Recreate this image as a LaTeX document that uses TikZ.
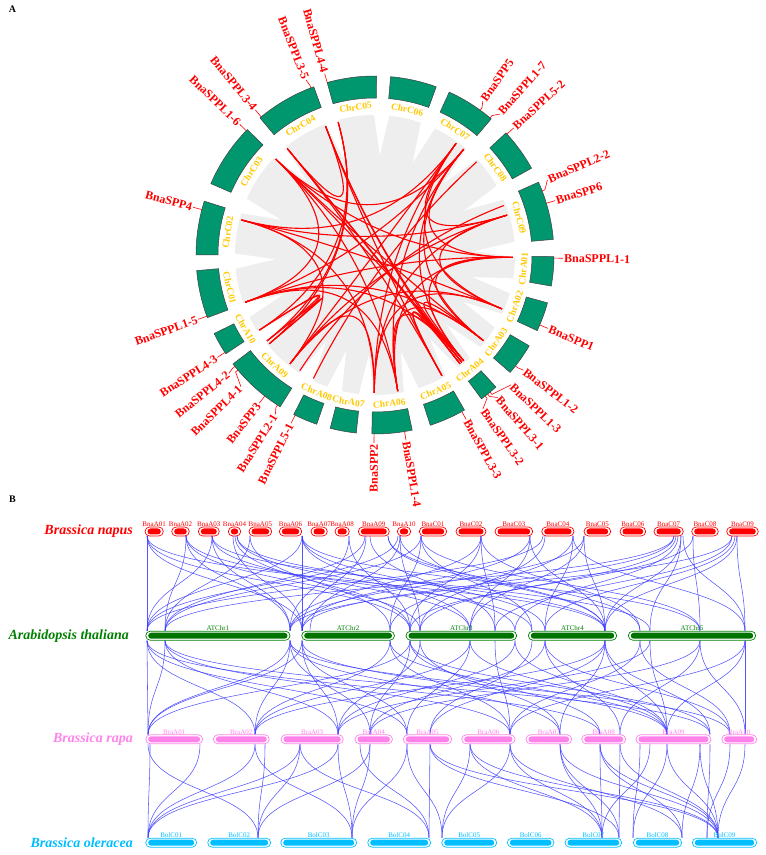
\documentclass[tikz,border=0pt]{standalone}
\usepackage{fontspec}
\setmainfont{Liberation Serif}
\definecolor{chrgreen}{RGB}{0,150,110}
\definecolor{chrgold}{RGB}{255,200,0}
\definecolor{greybg}{RGB}{238,238,238}
\definecolor{linkblue}{RGB}{55,55,255}
\definecolor{napred}{RGB}{255,0,0}
\definecolor{napout}{RGB}{255,90,90}
\definecolor{atgreen}{RGB}{0,128,0}
\definecolor{atout}{RGB}{0,160,0}
\definecolor{atfill}{RGB}{0,115,0}
\definecolor{rapapink}{RGB}{255,130,235}
\definecolor{oleblue}{RGB}{0,190,255}
\tikzset{
 chrblock/.style={fill=chrgreen, draw=black!75, line width=0.5pt},
 chrlab/.style={text=chrgold, font=\bfseries\fontsize{9.5}{9.5}\selectfont, inner sep=0pt},
 genelab/.style={text=napred, font=\bfseries\fontsize{12}{12}\selectfont, inner sep=1pt},
 geneline/.style={draw=napred, line width=0.6pt},
 redlink/.style={draw=napred, line width=1.1pt},
 bluelink/.style={draw=linkblue, line width=0.55pt, opacity=0.85},
 specieslab/.style={font=\bfseries\itshape\fontsize{14}{14}\selectfont, anchor=east, inner sep=0pt},
 barlab/.style={font=\fontsize{7}{7}\selectfont, inner sep=0.5pt, anchor=south},
 panellab/.style={font=\bfseries\fontsize{10}{10}\selectfont, inner sep=0pt}
}
\newcommand{\synbar}[7]{%
 \draw[draw=#4, line width=0.7pt, rounded corners=4.5pt] (#1,#3-4.5) rectangle (#2,#3+4.5);
 \fill[#5, rounded corners=3pt] (#1+2.5,#3-3) rectangle (#2-2.5,#3+3);
 \node[barlab, text=#4] (#7) at ({(#1+#2)/2},#3-4.5) {#6};}
\newcommand{\familylinks}[1]{%
 \foreach \x [count=\i] in {#1} {\foreach \y [count=\j] in {#1} {%
  \ifnum\j>\i \draw[redlink] (\x:138) .. controls (\x:46) and (\y:46) .. (\y:138);\fi}}}
\begin{document}
\begin{tikzpicture}[x=1pt,y=1pt]
\useasboundingbox (0,0) rectangle (766,855);
\node[panellab] (labA) at (12.5,846) {A};
\node[panellab] (labB) at (12.5,356) {B};

% ================= Panel A : circos =================
\begin{scope}[shift={(375,600)}]
\fill[greybg] (0,0) circle (140);
\foreach \g in {-12.75,-28,-44.25,-56.75,-75,-93.5,-106.75,-119.5,-144.25,-156.75,-177.5,159.5,132.75,107.75,87.25,67.75,46.25,26.5,2.25}
  \fill[white] ({\g-3.2}:141.5) -- (\g:100) -- ({\g+3.2}:141.5) -- cycle;
\foreach \s/\e in {-10/-0.5,-25/-15.5,-41/-30.5,-53.5/-47.5,-72/-60,-91/-78,-104.5/-96,-117/-109,-142.5/-122,-154/-146.5,-175/-159.5,162.5/180,135.5/156.5,110/130,89.5/105.5,70/85,49.5/65.5,29/43,5/24}
  \draw[chrblock] (\s:157) arc[start angle=\s, end angle=\e, radius=157] -- (\e:179) arc[start angle=\e, end angle=\s, radius=179] -- cycle;
\foreach \a/\n [count=\i] in {-5.25/ChrA01,-20.25/ChrA02,-35.75/ChrA03,-50.5/ChrA04,-66/ChrA05,-84.5/ChrA06,-100.25/ChrA07,-113/ChrA08,-132.25/ChrA09,-150.25/ChrA10,-167.25/ChrC01,171.25/ChrC02,146/ChrC03,120/ChrC04,97.5/ChrC05,77.5/ChrC06,57.5/ChrC07,36/ChrC08,14.5/ChrC09} {
  \pgfmathsetmacro\rot{sin(\a)>0 ? \a-90 : \a+90}
  \node[chrlab, rotate=\rot] (cl\i) at (\a:149) {\n};
}
% links (paralogous pairs)
\familylinks{-1,-38.3,-50,-80.5,-160,136,50}
\familylinks{-23,-90.3,-128,165.3,54,16.8}
\familylinks{-51,-52,-61,129.5,111}
\familylinks{-140,-141.5,-147,105.5}
\familylinks{-123,21}
\familylinks{-116.5,42.5}
% gene labels, right half
\foreach \at/\lb/\n [count=\i] in {-1/-1/BnaSPPL1-1,-23/-23/BnaSPP1,-38.3/-37.8/BnaSPPL1-2,-50/-43.7/BnaSPPL1-3,-51/-49.3/BnaSPPL3-1,-52/-55/BnaSPPL3-2,-61/-61/BnaSPPL3-3,-80.5/-80.5/BnaSPPL1-4,16.8/16.8/BnaSPP6,21/23.5/BnaSPPL2-2,42.5/42.5/BnaSPPL5-2,50/48.5/BnaSPPL1-7,54/55/BnaSPP5} {
  \draw[geneline] (\at:179) -- (\at:182) -- (\lb:188);
  \node[genelab, anchor=west, rotate=\lb] (gr\i) at (\lb:188) {\n};
}
% gene labels, left half
\foreach \at/\lb/\n [count=\i] in {105.5/105.5/BnaSPPL4-4,111/111.5/BnaSPPL3-5,129.5/129.5/BnaSPPL3-4,136/136/BnaSPPL1-6,165.3/165.3/BnaSPP4,-160/-160/BnaSPPL1-5,-147/-147/BnaSPPL4-3,-141.5/-141/BnaSPPL4-2,-140/-135.5/BnaSPPL4-1,-128/-128/BnaSPP3,-123/-122/BnaSPPL2-1,-116.5/-116.5/BnaSPPL5-1,-90.3/-90.3/BnaSPP2} {
  \draw[geneline] (\at:179) -- (\at:182) -- (\lb:188);
  \pgfmathsetmacro\rr{\lb+180}
  \node[genelab, anchor=east, rotate=\rr] (gl\i) at (\lb:188) {\n};
}
\end{scope}

% ================= Panel B : synteny =================
\begin{scope}[shift={(0,855)}, yscale=-1]
% links napus -> arabidopsis
\foreach \a/\b in {147/147,147/302,147/410,147/605,186/165,186/290,186/420,186/532,212/147,212/290,212/470,212/650,233/302,235/410,237/515,237/605,250/165,250/390,302/147,302/302,302/470,302/545,302/700,349/290,349/410,365/165,366/302,370/495,388/605,388/640,398/147,400/310,400/420,400/605,421/165,421/390,421/532,421/700,481/290,481/410,481/495,481/640,530/302,530/470,530/605,543/147,545/420,573/390,573/545,573/745,584/290,584/470,584/605,674/165,674/302,676/420,678/515,681/605,681/650,683/745,693/410,693/700,732/290,732/495,735/545,737/605,737/745}
  \draw[bluelink] (\a,536) .. controls (\a,583.4) and (\b,583.4) .. (\b,630.7);
% links arabidopsis -> rapa
\foreach \a/\b in {147/148,165/148,290/148,302/148,410/148,147/255,290/255,390/255,470/255,605/255,165/338,302/338,420/338,515/338,650/338,290/370,410/370,545/370,700/370,147/407,302/407,470/407,532/430,605/430,165/510,390/510,495/510,640/510,745/510,290/560,420/560,605/560,147/600,410/600,545/620,700/620,302/667,390/667,470/667,515/667,605/667,650/667,745/667,165/710,410/710,605/710,290/730,545/730,640/730,745/745,700/745}
  \draw[bluelink] (\a,640.7) .. controls (\a,687.5) and (\b,687.5) .. (\b,734.3);
% links rapa -> oleracea
\foreach \a/\b in {150/148,200/148,255/148,300/148,338/148,148/258,265/258,300/258,370/258,338/352,370/352,255/352,407/352,430/429,360/429,300/429,470/442,510/442,407/442,510/602,560/602,600/602,470/602,650/602,430/619,560/619,620/619,640/633,667/633,600/682,700/682,510/682,560/718,600/718,620/718,667/718,700/718,470/718,430/718,710/707,730/707,745/718}
  \draw[bluelink] (\a,744.3) .. controls (\a,791) and (\b,791) .. (\b,837.7);

% species labels
\node[specieslab, text=napred] (spnap) at (133,531.5) {Brassica napus};
\node[specieslab, text=atgreen] (spat) at (129,635.7) {Arabidopsis thaliana};
\node[specieslab, text=rapapink] (sprapa) at (133,739.3) {Brassica rapa};
\node[specieslab, text=oleblue] (spole) at (133,842.7) {Brassica oleracea};

% napus chromosomes
\synbar{145}{163.3}{531.5}{napred}{napred}{BnaA01}{nA01}
\synbar{171.7}{189.3}{531.5}{napred}{napred}{BnaA02}{nA02}
\synbar{198.3}{219.3}{531.5}{napred}{napred}{BnaA03}{nA03}
\synbar{228.3}{240.7}{531.5}{napred}{napred}{BnaA04}{nA04}
\synbar{249}{271.7}{531.5}{napred}{napred}{BnaA05}{nA05}
\synbar{279.3}{301.7}{531.5}{napred}{napred}{BnaA06}{nA06}
\synbar{311}{327.3}{531.5}{napred}{napred}{BnaA07}{nA07}
\synbar{335}{349.3}{531.5}{napred}{napred}{BnaA08}{nA08}
\synbar{358.3}{389.3}{531.5}{napred}{napred}{BnaA09}{nA09}
\synbar{397.3}{410.7}{531.5}{napred}{napred}{BnaA10}{nA10}
\synbar{419.3}{446.7}{531.5}{napred}{napred}{BnaC01}{nC01}
\synbar{456}{486}{531.5}{napred}{napred}{BnaC02}{nC02}
\synbar{495}{532.7}{531.5}{napred}{napred}{BnaC03}{nC03}
\synbar{541.7}{574}{531.5}{napred}{napred}{BnaC04}{nC04}
\synbar{584}{610.7}{531.5}{napred}{napred}{BnaC05}{nC05}
\synbar{620}{645.7}{531.5}{napred}{napred}{BnaC06}{nC06}
\synbar{654}{683.3}{531.5}{napred}{napred}{BnaC07}{nC07}
\synbar{691.7}{718.3}{531.5}{napred}{napred}{BnaC08}{nC08}
\synbar{726.7}{758.3}{531.5}{napred}{napred}{BnaC09}{nC09}
% arabidopsis chromosomes
\synbar{145.7}{290}{635.7}{atgreen}{atfill}{ATChr1}{at1}
\synbar{301.7}{394.5}{635.7}{atgreen}{atfill}{ATChr2}{at2}
\synbar{406}{516.7}{635.7}{atgreen}{atfill}{ATChr3}{at3}
\synbar{528.3}{616.7}{635.7}{atgreen}{atfill}{ATChr4}{at4}
\synbar{628.3}{755.7}{635.7}{atgreen}{atfill}{ATChr5}{at5}
% rapa chromosomes
\synbar{145.7}{202.7}{739.3}{rapapink}{rapapink}{BraA01}{rA01}
\synbar{213.3}{269.3}{739.3}{rapapink}{rapapink}{BraA02}{rA02}
\synbar{281}{343.3}{739.3}{rapapink}{rapapink}{BraA03}{rA03}
\synbar{355}{392.5}{739.3}{rapapink}{rapapink}{BraA04}{rA04}
\synbar{403.3}{451.7}{739.3}{rapapink}{rapapink}{BraA05}{rA05}
\synbar{461.7}{515}{739.3}{rapapink}{rapapink}{BraA06}{rA06}
\synbar{526}{571.7}{739.3}{rapapink}{rapapink}{BraA07}{rA07}
\synbar{581.7}{625.7}{739.3}{rapapink}{rapapink}{BraA08}{rA08}
\synbar{636}{711}{739.3}{rapapink}{rapapink}{BraA09}{rA09}
\synbar{721.7}{756.7}{739.3}{rapapink}{rapapink}{BraA10}{rA10}
% oleracea chromosomes
\synbar{145.7}{196.7}{842.7}{oleblue}{oleblue}{BolC01}{oC01}
\synbar{207.7}{270.7}{842.7}{oleblue}{oleblue}{BolC02}{oC02}
\synbar{280.7}{356.7}{842.7}{oleblue}{oleblue}{BolC03}{oC03}
\synbar{367.7}{430.7}{842.7}{oleblue}{oleblue}{BolC04}{oC04}
\synbar{441.7}{496.7}{842.7}{oleblue}{oleblue}{BolC05}{oC05}
\synbar{507.3}{554}{842.7}{oleblue}{oleblue}{BolC06}{oC06}
\synbar{565}{621.7}{842.7}{oleblue}{oleblue}{BolC07}{oC07}
\synbar{633.3}{681.7}{842.7}{oleblue}{oleblue}{BolC08}{oC08}
\synbar{692.3}{756.7}{842.7}{oleblue}{oleblue}{BolC09}{oC09}
\end{scope}
\end{tikzpicture}
\end{document}
